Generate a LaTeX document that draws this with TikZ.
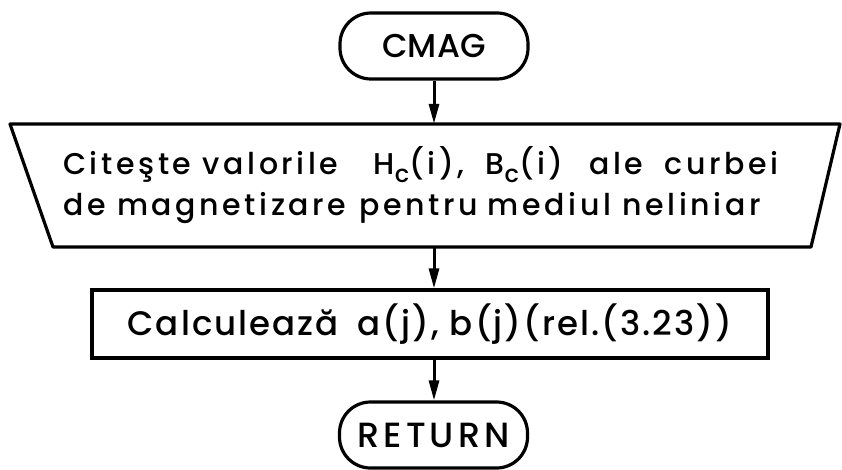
\documentclass[tikz,border=0pt]{standalone}
\usepackage{fontspec}
\setmainfont{Poppins Medium}
\newfontfamily\widea[LetterSpace=12]{Poppins Medium}
\newfontfamily\wideb[LetterSpace=6]{Poppins Medium}
\newfontfamily\widec[LetterSpace=12]{Poppins Medium}
\usetikzlibrary{arrows.meta,fit}
\newcommand{\subc}{\raisebox{-8pt}{\fontsize{24}{24}\selectfont c}}
\begin{document}
\begin{tikzpicture}[x=1pt,y=-1pt,
  outline/.style={line width=3.2pt,line join=round},
  term/.style={draw,line width=3.2pt,rounded corners=31pt,minimum width=188pt,minimum height=66pt,inner sep=0pt},
  procbox/.style={draw,line width=3.2pt,minimum width=676pt,minimum height=68pt,inner sep=0pt,font=\wideb\fontsize{34}{40}\selectfont},
  flow/.style={line width=3pt,-{Triangle[length=20pt,width=10pt]}},
  txt/.style={anchor=base west,inner sep=0pt,font=\widea\fontsize{30}{40}\selectfont}
]
\useasboundingbox (0,0) rectangle (842,470);
\node[term,font=\fontsize{33}{40}\selectfont] (cmag) at (434,46) {CMAG};
\coordinate (tl) at (10,124);
\coordinate (tr) at (840,124);
\coordinate (br) at (811,247);
\coordinate (bl) at (53,247);
\draw[outline] (tl) -- (tr) -- (br) -- (bl) -- cycle;
\node[fit=(tl)(tr)(br)(bl),inner sep=0pt] (read) {};
\node[txt] (line1) at (63,175) {Citeşte valorile\hspace{24pt} H\subc(i),\hspace{10pt} B\subc(i)\hspace{14pt} ale\hspace{10pt} curbei};
\node[txt] (line2) at (63,215) {de magnetizare\hspace{2pt} pentru\hspace{-2pt} mediul neliniar};
\node[procbox] (calc) at (430,324) {Calculează\hspace{8pt} a(j), b(j)(rel.(3.23))};
\node[term,font=\widec\fontsize{35}{40}\selectfont] (ret) at (433.5,435) {RETURN};
\draw[flow] (cmag.south) -- (cmag.south |- read.north);
\draw[flow] (read.south -| cmag.south) -- (calc.north -| cmag.south);
\draw[flow] (calc.south -| cmag.south) -- (ret.north -| cmag.south);
\end{tikzpicture}
\end{document}
